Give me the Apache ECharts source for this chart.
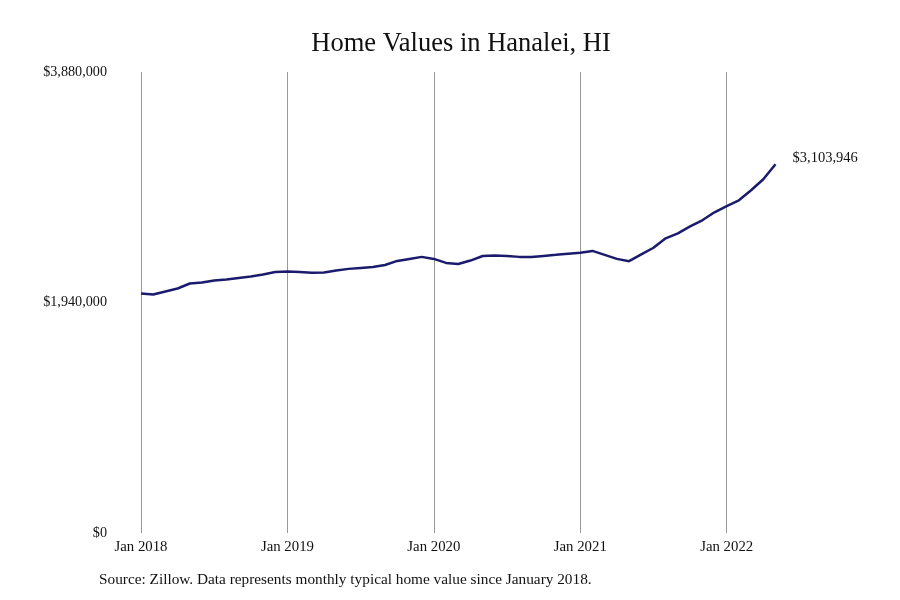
<!DOCTYPE html>
<html>
<head>
<meta charset="utf-8">
<script src="https://cdn.jsdelivr.net/npm/echarts@6/dist/echarts.min.js"></script>
<style>
html,body{margin:0;padding:0;background:#fff;}
#chart{width:900px;height:600px;}
</style>
</head>
<body>
<div id="chart"></div>
<script>
const months = [
  "Jan 2018","Feb 2018","Mar 2018","Apr 2018","May 2018","Jun 2018","Jul 2018","Aug 2018","Sep 2018","Oct 2018","Nov 2018","Dec 2018",
  "Jan 2019","Feb 2019","Mar 2019","Apr 2019","May 2019","Jun 2019","Jul 2019","Aug 2019","Sep 2019","Oct 2019","Nov 2019","Dec 2019",
  "Jan 2020","Feb 2020","Mar 2020","Apr 2020","May 2020","Jun 2020","Jul 2020","Aug 2020","Sep 2020","Oct 2020","Nov 2020","Dec 2020",
  "Jan 2021","Feb 2021","Mar 2021","Apr 2021","May 2021","Jun 2021","Jul 2021","Aug 2021","Sep 2021","Oct 2021","Nov 2021","Dec 2021",
  "Jan 2022","Feb 2022","Mar 2022","Apr 2022","May 2022"
];
const homeValues = [
  2016000,2008000,2033000,2058000,2100000,2109000,2126000,2134000,2147000,2159000,2176000,2197000,
  2201000,2197000,2191000,2193000,2210000,2223000,2231000,2238000,2256000,2290000,2307000,2324000,
  2307000,2273000,2264000,2293000,2331000,2336000,2331000,2324000,2322000,2332000,2341000,2351000,
  2359000,2374000,2341000,2307000,2288000,2345000,2401000,2480000,2522000,2581000,2632000,2699000,
  2752000,2800000,2885000,2977000,3103946
];
const yTicks = [0, 1940000, 3880000];
const titleText = "Home Values in Hanalei, HI";
const sourceText = "Source: Zillow. Data represents monthly typical home value since January 2018.";

const FONT = "Liberation Serif";
const fmtMoney = v => "$" + Math.round(v).toLocaleString("en-US");
const isJan = (i) => months[i].indexOf("Jan") === 0;

const chart = echarts.init(document.getElementById('chart'), null, {renderer:'canvas'});
chart.setOption({
  backgroundColor: '#ffffff',
  animation: false,
  textStyle: { fontFamily: FONT },
  graphic: [
    { type:'text', x: 461, y: 44,
      style: { text: titleText, fontFamily: FONT, fontSize: 26.5, fill: '#111', textAlign:'center', textVerticalAlign:'middle' } },
    { type:'text', x: 99, y: 580,
      style: { text: sourceText, fontFamily: FONT, fontSize: 15.3, fill: '#111', textAlign:'left', textVerticalAlign:'middle' } }
  ],
  grid: { left: 141, right: 124.5, top: 72, bottom: 67, containLabel: false },
  xAxis: {
    type: 'category',
    data: months,
    boundaryGap: false,
    axisLine: { show: false },
    axisTick: { show: false },
    axisLabel: {
      interval: (i) => isJan(i),
      margin: 7,
      fontFamily: FONT, fontSize: 14.8, color: '#111'
    },
    splitLine: { show: true, interval: (i) => isJan(i), lineStyle: { color: '#999', width: 1 } }
  },
  yAxis: {
    type: 'value',
    min: yTicks[0],
    max: yTicks[2],
    interval: yTicks[1],
    axisLine: { show: false },
    axisTick: { show: false },
    splitLine: { show: false },
    axisLabel: {
      margin: 34,
      fontFamily: FONT, fontSize: 14.2, color: '#111',
      formatter: v => fmtMoney(v)
    }
  },
  series: [{
    type: 'line',
    data: homeValues,
    symbol: 'none',
    lineStyle: { color: '#1b1b6e', width: 2.5 },
    itemStyle: { color: '#1b1b6e' },
    endLabel: {
      show: true,
      distance: 17,
      offset: [0, -6],
      formatter: p => fmtMoney(p.value),
      fontFamily: FONT, fontSize: 14.5, color: '#111'
    }
  }]
});
</script>
</body>
</html>
